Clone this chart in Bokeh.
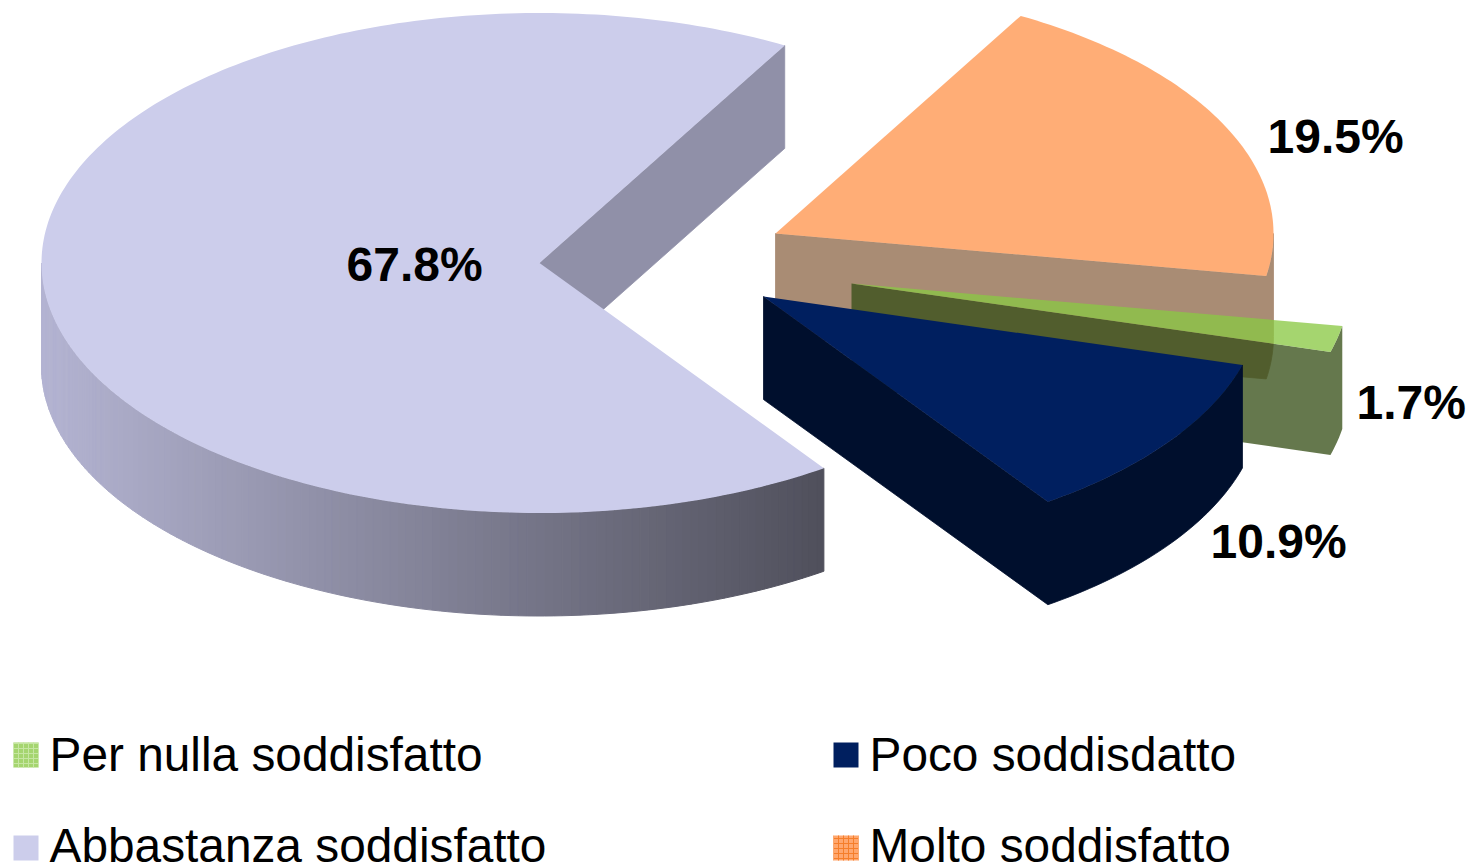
import math

from bokeh.core.properties import value
from bokeh.embed import file_html
from bokeh.models import ColumnDataSource, Range1d
from bokeh.plotting import figure
from bokeh.resources import INLINE

# Satisfaction shares, clockwise from the first slice's leading edge
slice_names = ["Molto soddisfatto", "Per nulla soddisfatto", "Poco soddisdatto", "Abbastanza soddisfatto"]
slice_shares = [19.5, 1.7, 10.9, 67.8]

legend_names = ["Per nulla soddisfatto", "Poco soddisdatto", "Abbastanza soddisfatto", "Molto soddisfatto"]

# Layout of the exploded pie, in page pixels
START_DEG = 60.5
RX, RY, DEPTH = 498, 250, 103
apex = {
    "Abbastanza soddisfatto": (539, 262.5),
    "Molto soddisfatto": (775, 233),
    "Per nulla soddisfatto": (851, 283),
    "Poco soddisdatto": (763, 296),
}
# Bokeh's text glyphs sit lower than the requested baseline at this size
TEXT_LIFT = 17
label_at = {
    "Abbastanza soddisfatto": (346, 281),
    "Molto soddisfatto": (1267, 153),
    "Per nulla soddisfatto": (1356, 419),
    "Poco soddisdatto": (1210, 558),
}
style = {
    "Abbastanza soddisfatto": dict(top="#cccdeb", wall="#9090a8", alpha=1.0),
    "Molto soddisfatto": dict(top="#ffad76", wall="#a98c74", alpha=1.0),
    "Per nulla soddisfatto": dict(top="#8ac844", wall="#365017", alpha=0.77),
    "Poco soddisdatto": dict(top="#001f5f", wall="#000f2d", alpha=1.0),
}
draw_order = ["Abbastanza soddisfatto", "Molto soddisfatto", "Per nulla soddisfatto", "Poco soddisdatto"]

p = figure(width=1473, height=867, output_backend="svg", toolbar_location=None,
           x_range=Range1d(0, 1473), y_range=Range1d(867, 0),
           min_border=0, outline_line_color=None, background_fill_color="white")
p.xaxis.visible = False
p.yaxis.visible = False
p.grid.visible = False


def rim(centre, deg):
    a = math.radians(deg)
    return centre[0] + RX * math.cos(a), centre[1] - RY * math.sin(a)


def degrees_between(first, last, step=1.0):
    n = max(2, int(abs(last - first) / step) + 1)
    return [first + (last - first) * i / (n - 1) for i in range(n)]


# Angular span of every slice, walking clockwise over the whole circle
spans = {}
cursor = START_DEG
total = sum(slice_shares)
for name, share in zip(slice_names, slice_shares):
    sweep = share / total * 360
    spans[name] = (cursor, cursor - sweep)
    cursor -= sweep


def shaded_wall(x):
    # Horizontal shading along the large slice's outer wall
    t = min(1.0, max(0.0, (x - 41) / 780))
    r = 180 + (80 - 180) * t
    b = 210 + (92 - 210) * t
    return "#%02x%02x%02x" % (round(r), round(r), round(b))


for name in draw_order:
    c = apex[name]
    s = style[name]
    begin, end = spans[name]
    # Opaque walls get an outline of their own colour so the top face closes over them
    edge = dict(line_color=s["wall"], line_width=0.8) if s["alpha"] == 1.0 else dict(line_color=None)

    if name == "Abbastanza soddisfatto":
        # Cut face, then the shaded outer wall across the front half
        ex, ey = rim(c, end)
        p.patch([c[0], ex, ex, c[0]], [c[1], ey, ey + DEPTH, c[1] + DEPTH],
                fill_color=s["wall"], **edge)
        degs = degrees_between(-180, begin)
        xs, ys, colors = [], [], []
        for d0, d1 in zip(degs[:-1], degs[1:]):
            x0, y0 = rim(c, d0)
            x1, y1 = rim(c, d1)
            xs.append([x0, x1, x1, x0])
            ys.append([y0, y1, y1 + DEPTH, y0 + DEPTH])
            colors.append(shaded_wall((x0 + x1) / 2))
        p.patches(xs, ys, fill_color=colors, line_color=colors, line_width=1)
    else:
        # Cut face and outer wall share one outline so that no seam shows
        rim_pts = [rim(c, d) for d in degrees_between(end, min(begin, 0))]
        xs = [c[0]] + [q[0] for q in rim_pts] + [q[0] for q in reversed(rim_pts)] + [c[0]]
        ys = [c[1]] + [q[1] for q in rim_pts] + [q[1] + DEPTH for q in reversed(rim_pts)] + [c[1] + DEPTH]
        p.patch(xs, ys, fill_color=s["wall"], fill_alpha=s["alpha"], **edge)

    # Top face
    rim_pts = [rim(c, d) for d in degrees_between(begin, end)]
    p.patch([c[0]] + [q[0] for q in rim_pts], [c[1]] + [q[1] for q in rim_pts],
            fill_color=s["top"], fill_alpha=s["alpha"], line_color=None)

# Value labels
label_src = ColumnDataSource(dict(
    x=[label_at[n][0] for n in slice_names],
    y=[label_at[n][1] - TEXT_LIFT for n in slice_names],
    t=[f"{v:.1f}%" for v in slice_shares],
))
p.text("x", "y", text="t", source=label_src, text_font=value("Liberation Sans"),
       text_font_style="bold", text_font_size=value("48px"), text_color="#000000",
       text_baseline="alphabetic", text_align="left", text_line_height=1.0)

# Legend: two columns, two rows
legend_x = [13, 833, 13, 833]
legend_y = [754.5, 754.5, 847.5, 847.5]
legend_fill = ["#a5d56f", "#001f5f", "#cccdeb", "#ffa76e"]
legend_hatch = ["cross", " ", " ", "cross"]
legend_hatch_color = ["#c6e6a2", "#001f5f", "#cccdeb", "#f57e2a"]
legend_src = ColumnDataSource(dict(
    x=[v + 12.5 for v in legend_x], y=legend_y, fill=legend_fill,
    hatch=legend_hatch, hatch_c=legend_hatch_color,
    tx=[v + 36 for v in legend_x], ty=[771 - TEXT_LIFT, 771 - TEXT_LIFT, 862 - TEXT_LIFT, 862 - TEXT_LIFT],
    t=legend_names,
))
p.rect("x", "y", width=25, height=25, source=legend_src, fill_color="fill", line_color=None,
       hatch_pattern="hatch", hatch_color="hatch_c", hatch_scale=5, hatch_weight=1)
p.text("tx", "ty", text="t", source=legend_src, text_font=value("Liberation Sans"),
       text_font_size=value("47.8px"), text_color="#000000",
       text_baseline="alphabetic", text_align="left", text_line_height=1.0)

open("out.html", "w").write(file_html(p, INLINE))
